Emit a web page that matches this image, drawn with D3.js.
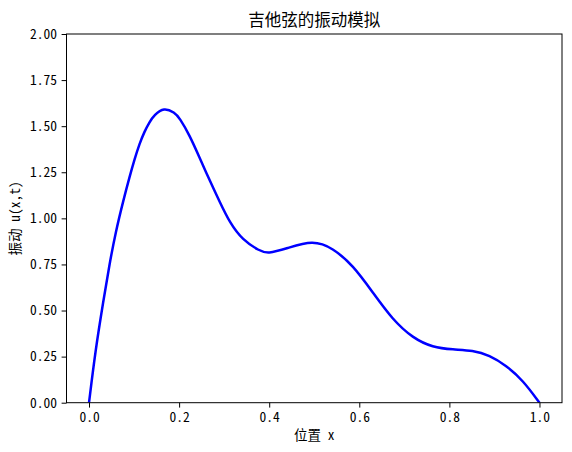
<!DOCTYPE html>
<html>
<head>
<meta charset="utf-8">
<script src="https://cdn.jsdelivr.net/npm/d3@7"></script>
<style>
  html, body { margin: 0; padding: 0; background: #fff; }
  svg { display: block; }
  text { font-family: "Noto Sans Mono CJK SC", "Noto Sans CJK SC", "DejaVu Sans", sans-serif; fill: #000; }
</style>
</head>
<body>
<svg id="chart" width="572" height="452"></svg>
<script>
// Data
const positions = [0, 0.014, 0.032, 0.045, 0.059, 0.077, 0.090, 0.101, 0.112, 0.123, 0.134, 0.145, 0.166, 0.190, 0.201, 0.223, 0.245, 0.267, 0.290, 0.312, 0.341, 0.378, 0.397, 0.438, 0.497, 0.541, 0.586, 0.630, 0.674, 0.719, 0.763, 0.808, 0.852, 0.889, 0.926, 0.963, 1.0];
const displacement = [0, 0.280, 0.555, 0.745, 0.925, 1.105, 1.225, 1.320, 1.405, 1.470, 1.522, 1.560, 1.602, 1.574, 1.545, 1.452, 1.332, 1.210, 1.090, 0.978, 0.882, 0.824, 0.808, 0.836, 0.882, 0.840, 0.745, 0.598, 0.450, 0.350, 0.300, 0.288, 0.284, 0.258, 0.202, 0.122, 0];
const xTicks = [0, 0.2, 0.4, 0.6, 0.8, 1.0];
const yTicks = [0, 0.25, 0.5, 0.75, 1.0, 1.25, 1.5, 1.75, 2.0];
const titleText = "吉他弦的振动模拟";
const xLabel = "位置 x";
const yLabel = "振动 u(x,t)";

const svg = d3.select("#chart");
const m = { left: 66.5, right: 562, top: 34, bottom: 402.7 };

const x = d3.scaleLinear().domain([-0.05, 1.05]).range([m.left, m.right]);
const y = d3.scaleLinear().domain([0, 2]).range([m.bottom, m.top]);

const data = positions.map((p, i) => ({ x: p, y: displacement[i] }));

svg.append("defs").append("clipPath").attr("id", "clip")
  .append("rect").attr("x", m.left).attr("y", m.top)
  .attr("width", m.right - m.left).attr("height", m.bottom - m.top);

svg.append("path")
  .datum(data)
  .attr("clip-path", "url(#clip)")
  .attr("fill", "none")
  .attr("stroke", "#0000ff")
  .attr("stroke-width", 2.5)
  .attr("stroke-linejoin", "round")
  .attr("d", d3.line().x(d => x(d.x)).y(d => y(d.y)).curve(d3.curveBasis));

svg.append("rect")
  .attr("x", m.left).attr("y", m.top)
  .attr("width", m.right - m.left).attr("height", m.bottom - m.top)
  .attr("fill", "none").attr("stroke", "#000").attr("stroke-width", 1);

const xAxis = svg.append("g")
  .attr("transform", `translate(0,${m.bottom})`)
  .call(d3.axisBottom(x).tickValues(xTicks).tickFormat(d3.format(".1f")).tickSize(4.9).tickPadding(4.5));
const yAxis = svg.append("g")
  .attr("transform", `translate(${m.left},0)`)
  .call(d3.axisLeft(y).tickValues(yTicks).tickFormat(d3.format(".2f")).tickSize(4.9).tickPadding(4.5));

[xAxis, yAxis].forEach(g => {
  g.select(".domain").remove();
  g.selectAll("line").attr("stroke", "#000").attr("stroke-width", 1);
  g.selectAll("text").attr("font-size", "13.5px")
    .attr("font-family", "\"Noto Sans Mono CJK SC\", \"Noto Sans CJK SC\", sans-serif").attr("fill", "#000");
});

svg.append("text")
  .attr("x", (m.left + m.right) / 2).attr("y", 26)
  .attr("text-anchor", "middle").attr("font-size", "16.5px")
  .text(titleText);

svg.append("text")
  .attr("x", (m.left + m.right) / 2).attr("y", 440)
  .attr("text-anchor", "middle").attr("font-size", "13.5px")
  .text(xLabel);

svg.append("text")
  .attr("transform", `translate(20,${(m.top + m.bottom) / 2}) rotate(-90)`)
  .attr("text-anchor", "middle").attr("font-size", "13.5px")
  .text(yLabel);
</script>
</body>
</html>
